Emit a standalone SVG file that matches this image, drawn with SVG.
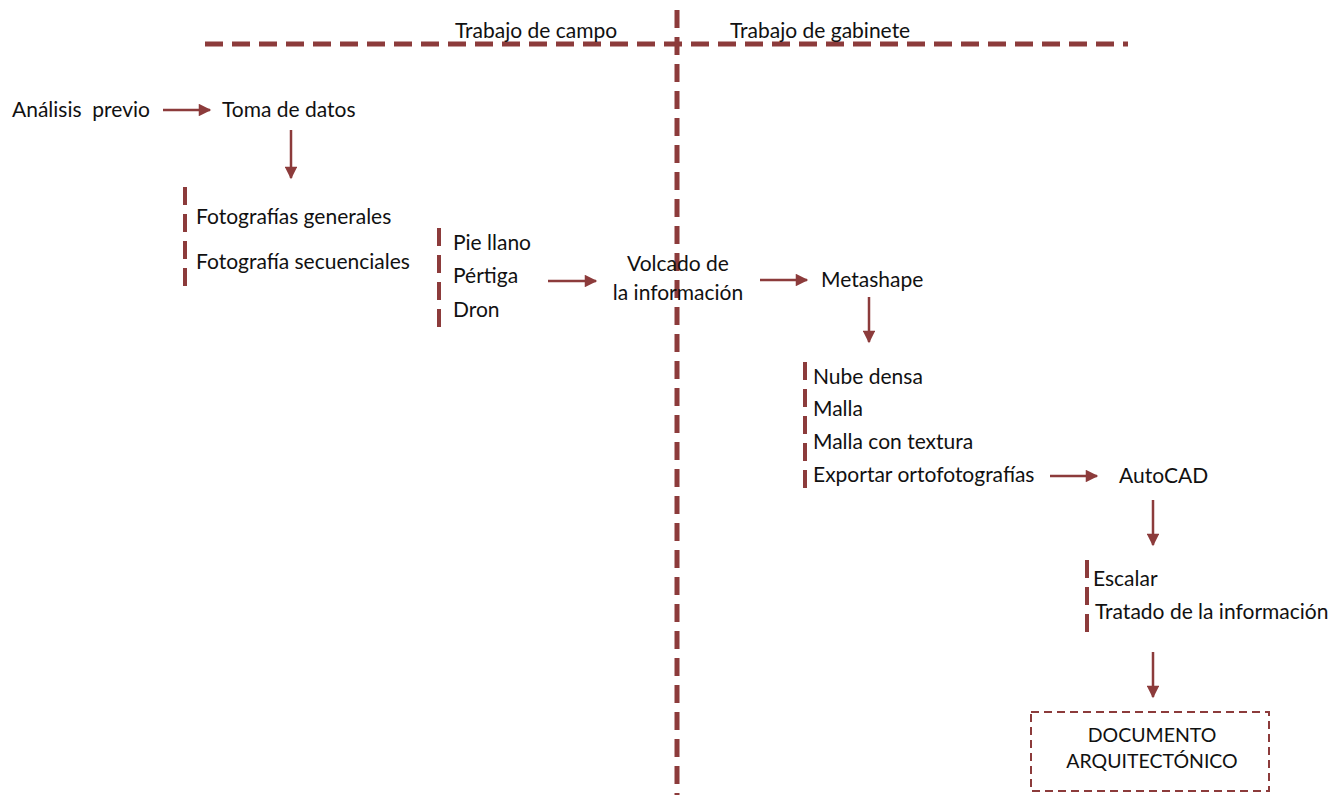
<svg xmlns="http://www.w3.org/2000/svg" width="1341" height="795" viewBox="0 0 1341 795">
<style>
text{font-family:Lato,"Liberation Sans",sans-serif;font-size:21px;fill:#111;white-space:pre}
.div{stroke:#8c3b3b;stroke-width:5;stroke-dasharray:18 9;fill:none}
.bar{stroke:#8c3b3b;stroke-width:4;stroke-dasharray:18 9;fill:none}
.arr{stroke:#8c3b3b;stroke-width:2.5;fill:none;marker-end:url(#ah)}
.box{stroke:#8c3b3b;stroke-width:2;stroke-dasharray:8 5;fill:none}
.c{text-anchor:middle}
.s{font-size:19.5px}
</style>
<defs>
<marker id="ah" viewBox="0 0 10 10" refX="9" refY="5" markerWidth="5.5" markerHeight="5" orient="auto" markerUnits="strokeWidth">
<path d="M0,0 L10,5 L0,10 z" fill="#8c3b3b"/>
</marker>
</defs>
<g id="dividers">
<line class="div" x1="205" y1="44" x2="1128" y2="44"/>
<line class="div" x1="677" y1="10" x2="677" y2="795"/>
</g>
<g id="lbl-campo"><text x="455" y="38">Trabajo de campo</text></g>
<g id="lbl-gabinete"><text x="730" y="38">Trabajo de gabinete</text></g>
<g id="n-analisis"><text x="12" y="117" xml:space="preserve">Análisis  previo</text></g>
<g id="n-toma"><text x="222" y="117">Toma de datos</text></g>
<g id="n-fotos">
<line class="bar" x1="185" y1="187" x2="185" y2="290"/>
<text x="196" y="224">Fotografías generales</text>
<text x="196" y="269">Fotografía secuenciales</text>
</g>
<g id="n-medios">
<line class="bar" x1="439" y1="228" x2="439" y2="330"/>
<text x="453" y="250">Pie llano</text>
<text x="453" y="283">Pértiga</text>
<text x="453" y="317">Dron</text>
</g>
<g id="n-volcado">
<text class="c" x="678" y="271">Volcado de</text>
<text class="c" x="678" y="300">la información</text>
</g>
<g id="n-metashape"><text x="821" y="287">Metashape</text></g>
<g id="n-procesos">
<line class="bar" x1="805" y1="362" x2="805" y2="492"/>
<text x="813" y="384">Nube densa</text>
<text x="813" y="416">Malla</text>
<text x="813" y="449">Malla con textura</text>
<text x="813" y="482">Exportar ortofotografías</text>
</g>
<g id="n-autocad"><text x="1119" y="483">AutoCAD</text></g>
<g id="n-tratado">
<line class="bar" x1="1087" y1="560" x2="1087" y2="633"/>
<text x="1093" y="586">Escalar</text>
<text x="1095" y="619">Tratado de la información</text>
</g>
<g id="n-documento">
<rect class="box" x="1031" y="712" width="238" height="79"/>
<text class="c s" x="1152" y="742">DOCUMENTO</text>
<text class="c s" x="1152" y="768">ARQUITECTÓNICO</text>
</g>
<g id="connectors">
<line class="arr" x1="163" y1="110" x2="210" y2="110"/>
<line class="arr" x1="291" y1="130" x2="291" y2="178"/>
<line class="arr" x1="548" y1="281" x2="596" y2="281"/>
<line class="arr" x1="760" y1="280" x2="807" y2="280"/>
<line class="arr" x1="869" y1="297" x2="869" y2="342"/>
<line class="arr" x1="1050" y1="476" x2="1097" y2="476"/>
<line class="arr" x1="1153" y1="500" x2="1153" y2="545"/>
<line class="arr" x1="1153" y1="652" x2="1153" y2="697"/>
</g>
</svg>
